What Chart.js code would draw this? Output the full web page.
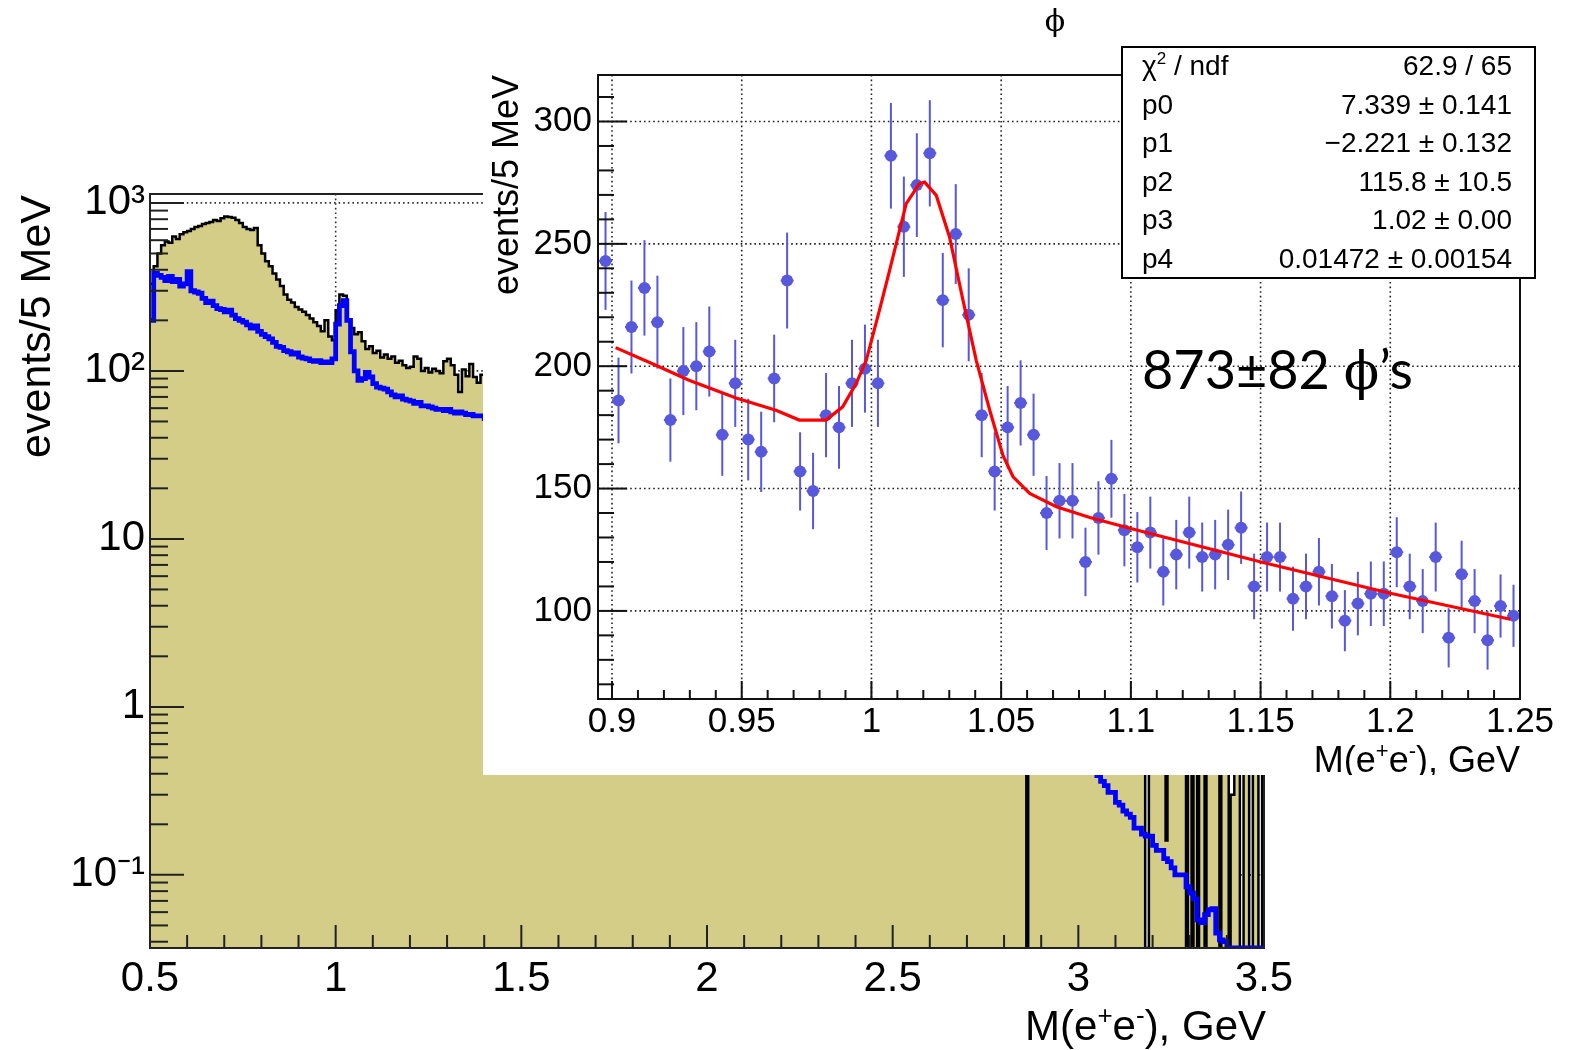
<!DOCTYPE html>
<html><head><meta charset="utf-8">
<script src="https://cdn.jsdelivr.net/npm/chart.js@4/dist/chart.umd.min.js"></script>
<style>
html,body{margin:0;padding:0;background:#fff;}
#wrap{position:relative;width:1573px;height:1050px;overflow:hidden;background:#fff;}
#main{position:absolute;left:0;top:0;}
#insetBox{position:absolute;left:483px;top:0;width:1090px;height:775px;background:#fff;}
</style></head><body>
<div id="wrap">
<canvas id="main" width="1573" height="1050"></canvas>
<div id="insetBox"><canvas id="inset" width="1090" height="775"></canvas></div>
</div>
<script>
const FONT = "'Liberation Sans', Arial, Helvetica, sans-serif";

// ---------------- main histogram (events / 5 MeV, log scale) ----------------
const mainXTicks = [0.5, 1, 1.5, 2, 2.5, 3, 3.5];
const mainXLabels = ['0.5', '1', '1.5', '2', '2.5', '3', '3.5'];
const mainYTicks = [0.1, 1, 10, 100, 1000];
const mainYLabels = ['10\u207B\u00B9', '1', '10', '10\u00B2', '10\u00B3'];
const mainYMin = 0.0367, mainYMax = 1130;

// data histogram, 10 MeV bins from 0.50 to 1.40 GeV
const blackAStart = 0.50, blackAWidth = 0.010;
const blackA = [330,420,500,560,590,580,630,610,650,670,
                680,700,720,730,750,760,770,790,780,810,
                830,825,815,790,760,720,700,690,710,560,
                500,450,420,380,350,320,285,265,255,240,
                232,225,215,205,195,185,172,200,160,152,
                230,285,280,200,180,165,170,150,135,140,
                128,132,120,125,118,122,112,115,108,104,
                106,122,118,100,104,98,103,100,97,114,
                118,108,95,75,102,93,110,92,85,95];
// data histogram, 50 MeV bins from 1.40 to 3.50 GeV (mostly behind the inset)
const blackBStart = 1.40, blackBWidth = 0.050;
const blackB = [88,78,68,58,50,43,36,30,26,22,
                18,15,13,11,9.5,8,7,6,5.2,4.6,
                4,3.5,3.1,2.7,2.4,2.1,1.9,1.7,1.5,1.4,
                1.3,1.2,1.1,1.0,1.0,0.9,0.9,0.8,0.8,0.7,
                0.7,0.6];
// 5 MeV bins that are empty / nearly empty in the data
const blackFineWidth = 0.005;
const blackEmptyBins = [2.860,3.180,3.185,3.290,3.305,3.320,3.340,3.380,3.405,3.435,3.440,3.460,3.465,3.485,3.490];
const blackLowBins = [[3.235,0.16],[3.410,0.30],[3.415,0.30]];

// blue histogram
const blueAStart = 0.50, blueAWidth = 0.010;
const blueA = [200,380,370,360,345,365,340,350,320,330,
               390,300,295,290,270,255,260,245,235,232,
               225,230,215,205,200,195,188,180,185,172,
               165,160,155,148,140,138,132,130,126,128,
               121,119,118,115,114,115,112,113,112,118,
               190,245,262,200,130,100,88,90,98,92,
               84,80,79,78,75,72,70,71,68,67,
               66,64,65,62,62,61,60,59,59,58,
               59,57,56,57,56,55,55,54,54,54];
const blueBStart = 1.40, blueBWidth = 0.10;
const blueB = [52,44,35,27,21,16,12.5,9.5,7.2,5.4,4,3,2.2,1.6,1.15,0.8];
const blueCStart = 3.00, blueCWidth = 0.010;
const blueC = [0.55,0.52,0.48,0.45,0.42,0.39,0.36,0.34,0.31,0.31,
               0.27,0.26,0.24,0.23,0.22,0.19,0.19,0.175,0.17,0.17,
               0.15,0.14,0.14,0.125,0.12,0.11,0.10,0.10,0.10,0.085,
               0.078,0.072,0.054,0.052,0.058,0.062,0.063,0.045,0.041,0.040,
               0,0,0,0,0,0,0,0,0,0];
const mainXEnd = 3.50;

// ---------------- inset: phi region ----------------
const insetFirstCenter = 0.8975, insetBinWidth = 0.005;
const insetY = [243,186,216,232,218,178,198,200,206,172,
                193,170,165,195,235,157,149,180,175,193,
                199,193,286,257,274,287,227,254,221,180,
                157,175,185,172,140,145,145,120,138,154,
                133,126,132,116,123,132,122,123,127,134,
                110,122,122,105,110,116,106,96,103,107,
                107,124,110,104,122,89,115,104,88,102,
                98];
const insetErr = [20,17.5,19,19.5,19,17,18,18,18.4,16.8,
                  17.8,16.7,16.4,17.9,19.6,16,15.6,17.2,16.9,17.8,
                  18,17.8,21.6,20.5,21.2,21.7,19.3,20.4,19,17.2,
                  16,16.9,17.4,16.8,15.1,15.4,15.4,14,15,15.9,
                  14.8,14.4,14.7,13.8,14.2,14.7,14.1,14.2,14.4,14.8,
                  13.4,14.1,14.1,13.1,13.4,13.8,13.2,12.5,13,13.2,
                  13.2,14.3,13.4,13.1,14.1,12.1,13.7,13.1,12,12.9,
                  12.7];
const fitX = [0.9014,0.9169,0.9297,0.9478,0.9632,0.9722,0.9825,0.9889,0.9941,0.998,
              1.0031,1.007,1.0134,1.0185,1.0205,1.025,1.0301,1.0353,1.0404,1.0456,
              1.0507,1.0546,1.061,1.0713,1.0842,1.0996,1.1498,1.2,1.2463];
const fitY = [207.6,200.4,194.3,187,182,178,178,183.4,192.9,202.4,
              222.9,239.2,266.4,274.6,275.2,269.8,252.8,226.9,202.4,182,
              163.5,154.8,148,142.6,138.2,133.8,120.1,107.2,96.6];
const insetXTicks = [0.9,0.95,1,1.05,1.1,1.15,1.2,1.25];
const insetXLabels = ['0.9','0.95','1','1.05','1.1','1.15','1.2','1.25'];
const insetYTicks = [100,150,200,250,300];
const insetYLabels = ['100','150','200','250','300'];
const statNames = ['p0','p1','p2','p3','p4'];
const statValues = ['62.9 / 65','7.339 \u00B1 0.141','\u22122.221 \u00B1 0.132','115.8 \u00B1 10.5','1.02 \u00B1 0.00','0.01472 \u00B1 0.00154'];
const yieldText = ['873\u00B182 ', '\u03D5', '\u2019s'];
const insetTitle = '\u03D5';
const axisTitleY = 'events/5 MeV';

// ---------------- helpers ----------------
// empty bins are drawn at the bottom of the log axis (as the original plot does)
const floorLog = v => (v > 0 ? v : mainYMin);
function stepPoints(start, width, vals){
  return vals.map((v,i)=>({x: Math.round((start + i*width)*10000)/10000, y: floorLog(v)}));
}
function fineBlack(){
  const n = Math.round((mainXEnd - blackBStart)/blackFineWidth);
  const over = new Map();
  blackEmptyBins.forEach(m=>over.set(Math.round(m*1000), 0));
  blackLowBins.forEach(([m,v])=>over.set(Math.round(m*1000), v));
  const pts = []; let last = null;
  const startKey = Math.round(blackBStart*1000), coarseKey = Math.round(blackBWidth*1000), fineKey = Math.round(blackFineWidth*1000);
  for (let i=0;i<n;i++){
    const key = startKey + i*fineKey;
    const v = over.has(key) ? over.get(key) : blackB[Math.floor((key-startKey)/coarseKey)];
    if (v !== last){ pts.push({x:key/1000, y:floorLog(v)}); last = v; }
  }
  pts.push({x:mainXEnd, y:floorLog(last)});
  return pts;
}
const blackPts = [...stepPoints(blackAStart, blackAWidth, blackA), ...fineBlack()];
const bluePts = [...stepPoints(blueAStart, blueAWidth, blueA), ...stepPoints(blueBStart, blueBWidth, blueB),
                 ...stepPoints(blueCStart, blueCWidth, blueC), {x:mainXEnd, y:floorLog(blueC[blueC.length-1])}];
const insetPts = insetY.map((v,i)=>({x: insetFirstCenter + i*insetBinWidth, y: v}));
const fitPts = fitX.map((x,i)=>({x, y: fitY[i]}));

function labelFor(ticks, labels, v){
  for (let i=0;i<ticks.length;i++) if (Math.abs(ticks[i]-v) < 1e-9*Math.max(1,Math.abs(v))) return labels[i];
  return '';
}
function seg(ctx,x1,y1,x2,y2){ ctx.beginPath(); ctx.moveTo(x1,y1); ctx.lineTo(x2,y2); ctx.stroke(); }
function drawRich(ctx, parts, x, y, F, family, align){
  let w = 0;
  parts.forEach(([t,s])=>{ ctx.font = `${s?Math.round(F*0.62):F}px ${family}`; w += ctx.measureText(t).width; });
  let cx = align==='right' ? x-w : (align==='center' ? x-w/2 : x);
  ctx.textAlign='left'; ctx.textBaseline='alphabetic';
  parts.forEach(([t,s])=>{ ctx.font = `${s?Math.round(F*0.62):F}px ${family}`; ctx.fillText(t, cx, s ? y-F*0.38 : y); cx += ctx.measureText(t).width; });
}

// ---------------- main chart decorations ----------------
const mainDecor = {
  id:'mainDecor',
  beforeDatasetsDraw(chart){
    const {ctx, chartArea:a, scales:{x,y}} = chart;
    ctx.save();
    ctx.beginPath(); ctx.rect(a.left,a.top,a.right-a.left,a.bottom-a.top); ctx.clip();
    ctx.strokeStyle='#333'; ctx.lineWidth=1.6; ctx.setLineDash([1.6,3]);
    mainXTicks.forEach(v=>{ if (v>x.min && v<x.max){ const p=x.getPixelForValue(v); seg(ctx,p,a.top,p,a.bottom);} });
    mainYTicks.forEach(v=>{ const p=y.getPixelForValue(v); seg(ctx,a.left,p,a.right,p); });
    ctx.restore();
  },
  afterDatasetsDraw(chart){
    const {ctx, chartArea:a, scales:{x,y}} = chart;
    ctx.save();
    ctx.strokeStyle='#222'; ctx.lineWidth=2;
    ctx.strokeRect(a.left, a.top, a.right-a.left, a.bottom-a.top);
    for (let k=5;k<=35;k++){
      const v=k/10, p=x.getPixelForValue(v);
      seg(ctx,p,a.bottom,p,a.bottom-(k%5===0?23:13));
    }
    for (let d=-2; d<=3; d++){
      for (let m=1;m<=9;m++){
        const v=m*Math.pow(10,d);
        if (v<y.min || v>y.max) continue;
        const p=y.getPixelForValue(v);
        seg(ctx,a.left,p,a.left+(m===1?34:18),p);
      }
    }
    ctx.restore();
  },
  afterDraw(chart){
    const {ctx, chartArea:a} = chart;
    ctx.save(); ctx.fillStyle='#000';
    ctx.translate(50, a.top+1); ctx.rotate(-Math.PI/2);
    ctx.font = `43px ${FONT}`; ctx.textAlign='right'; ctx.textBaseline='alphabetic';
    ctx.fillText(axisTitleY, 0, 0);
    ctx.restore();
    ctx.save(); ctx.fillStyle='#000';
    drawRich(ctx, [['M(e',false],['+',true],['e',false],['-',true],['), GeV',false]], a.right+2, 1040, 42, FONT, 'right');
    ctx.restore();
  }
};

new Chart(document.getElementById('main'), {
  type:'line',
  data:{datasets:[
    {label:'MC', data:bluePts, order:0, borderColor:'#0000ff', borderWidth:4.8, stepped:true, pointRadius:0, fill:false},
    {label:'data', data:blackPts, order:1, borderColor:'#000000', borderWidth:2.5, stepped:true, pointRadius:0, fill:'start', backgroundColor:'#d3cd87'}
  ]},
  options:{
    responsive:false, animation:false, devicePixelRatio:1,
    layout:{padding:{left:0, top:194, right:309, bottom:0}},
    plugins:{legend:{display:false}, tooltip:{enabled:false}},
    scales:{
      x:{type:'linear', position:'bottom', min:0.5, max:3.5,
         afterBuildTicks(s){ s.ticks = mainXTicks.map(v=>({value:v})); },
         afterFit(s){ s.height = 102; },
         grid:{display:false, drawTicks:false}, border:{display:false},
         ticks:{autoSkip:false, maxRotation:0, minRotation:0, padding:6, color:'#000', font:{family:FONT, size:42},
                callback:(v)=>labelFor(mainXTicks, mainXLabels, v)}},
      y:{type:'logarithmic', position:'left', min:mainYMin, max:mainYMax,
         afterBuildTicks(s){ s.ticks = mainYTicks.map(v=>({value:v})); },
         afterFit(s){ s.width = 150; },
         grid:{display:false, drawTicks:false}, border:{display:false},
         ticks:{autoSkip:false, padding:5, color:'#000', font:{family:FONT, size:42},
                callback:(v)=>labelFor(mainYTicks, mainYLabels, v)}}
    }
  },
  plugins:[mainDecor]
});

// ---------------- inset decorations ----------------
const PT_COLOR = '#5858dc';
const insetDecor = {
  id:'insetDecor',
  beforeDatasetsDraw(chart){
    const {ctx, chartArea:a, scales:{x,y}} = chart;
    ctx.save();
    ctx.beginPath(); ctx.rect(a.left,a.top,a.right-a.left,a.bottom-a.top); ctx.clip();
    ctx.strokeStyle='#222'; ctx.lineWidth=1.6; ctx.setLineDash([1.6,3]);
    insetXTicks.forEach(v=>{ const p=x.getPixelForValue(v); if (p<a.right-2) seg(ctx,p,a.top,p,a.bottom); });
    insetYTicks.forEach(v=>{ const p=y.getPixelForValue(v); seg(ctx,a.left,p,a.right,p); });
    ctx.setLineDash([]);
    ctx.strokeStyle=PT_COLOR; ctx.lineWidth=2;
    insetPts.forEach((pt,i)=>{
      const px=x.getPixelForValue(pt.x), py=y.getPixelForValue(pt.y);
      seg(ctx, px, y.getPixelForValue(pt.y+insetErr[i]), px, y.getPixelForValue(pt.y-insetErr[i]));
      seg(ctx, x.getPixelForValue(pt.x-insetBinWidth/2), py, x.getPixelForValue(pt.x+insetBinWidth/2), py);
    });
    ctx.restore();
  },
  afterDatasetsDraw(chart){
    const {ctx, chartArea:a, scales:{x,y}} = chart;
    ctx.save();
    ctx.strokeStyle='#111'; ctx.lineWidth=2;
    ctx.strokeRect(a.left, a.top, a.right-a.left, a.bottom-a.top);
    for (let k=90;k<=125;k++){
      const v=k/100, p=x.getPixelForValue(v);
      seg(ctx,p,a.bottom,p,a.bottom-(k%5===0?18:9));
    }
    for (let v=70; v<=310; v+=10){
      const p=y.getPixelForValue(v);
      seg(ctx,a.left,p,a.left+(v%50===0?29:16),p);
    }
    ctx.restore();
  },
  afterDraw(chart){
    const {ctx, chartArea:a} = chart;
    ctx.save();
    ctx.fillStyle='#000';
    ctx.save();
    ctx.translate(35, a.top); ctx.rotate(-Math.PI/2);
    ctx.font = `36px ${FONT}`; ctx.textAlign='right'; ctx.textBaseline='alphabetic';
    ctx.fillText(axisTitleY, 0, 0);
    ctx.restore();
    drawRich(ctx, [['M(e',false],['+',true],['e',false],['-',true],['), GeV',false]], a.right, 772, 36, FONT, 'right');
    ctx.font = `30px 'DejaVu Serif', serif`; ctx.textAlign='center'; ctx.textBaseline='alphabetic';
    ctx.fillText(insetTitle, 572, 31);
    // stats box
    const bx=639, by=47, bw=413, bh=231;
    ctx.fillStyle='#fff'; ctx.fillRect(bx,by,bw,bh);
    ctx.strokeStyle='#000'; ctx.lineWidth=2; ctx.strokeRect(bx,by,bw,bh);
    ctx.fillStyle='#000';
    const F=28, base0=75, step=38.6, lx=659, rx=1029;
    drawRich(ctx, [['\u03C7',false],['2',true],[' / ndf',false]], lx, base0, F, FONT, 'left');
    statNames.forEach((n,i)=>{ ctx.font=`${F}px ${FONT}`; ctx.textAlign='left'; ctx.fillText(n, lx, base0+step*(i+1)); });
    statValues.forEach((v,i)=>{ ctx.font=`${F}px ${FONT}`; ctx.textAlign='right'; ctx.fillText(v, rx, base0+step*i); });
    // yield annotation
    ctx.textAlign='left';
    let cx = 659;
    ctx.font = `54px Lato, 'Open Sans', sans-serif`; ctx.fillText(yieldText[0], cx, 389); cx += ctx.measureText(yieldText[0]).width;
    ctx.font = `52px 'DejaVu Serif', serif`; ctx.fillText(yieldText[1], cx, 389); cx += ctx.measureText(yieldText[1]).width;
    ctx.font = `54px Lato, 'Open Sans', sans-serif`; ctx.fillText(yieldText[2], cx, 389);
    ctx.restore();
  }
};

new Chart(document.getElementById('inset'), {
  type:'scatter',
  data:{datasets:[
    {type:'line', label:'fit', data:fitPts, order:0, borderColor:'#ff0000', borderWidth:3.2, pointRadius:0, fill:false, tension:0},
    {type:'scatter', label:'data', data:insetPts, order:1, pointStyle:'circle', pointRadius:6, pointBackgroundColor:PT_COLOR, pointBorderColor:PT_COLOR, pointBorderWidth:0}
  ]},
  options:{
    responsive:false, animation:false, devicePixelRatio:1,
    layout:{padding:{left:0, top:75, right:53, bottom:0}},
    plugins:{legend:{display:false}, tooltip:{enabled:false}},
    scales:{
      x:{type:'linear', position:'bottom', min:0.8946, max:1.25,
         afterBuildTicks(s){ s.ticks = insetXTicks.map(v=>({value:v})); },
         afterFit(s){ s.height = 76; },
         grid:{display:false, drawTicks:false}, border:{display:false},
         ticks:{autoSkip:false, maxRotation:0, minRotation:0, padding:2, color:'#000', font:{family:FONT, size:35},
                callback:(v)=>labelFor(insetXTicks, insetXLabels, v)}},
      y:{type:'linear', position:'left', min:64, max:319,
         afterBuildTicks(s){ s.ticks = insetYTicks.map(v=>({value:v})); },
         afterFit(s){ s.width = 115; },
         grid:{display:false, drawTicks:false}, border:{display:false},
         ticks:{autoSkip:false, padding:6, color:'#000', font:{family:FONT, size:35},
                callback:(v)=>labelFor(insetYTicks, insetYLabels, v)}}
    }
  },
  plugins:[insetDecor]
});
</script>
</body></html>
